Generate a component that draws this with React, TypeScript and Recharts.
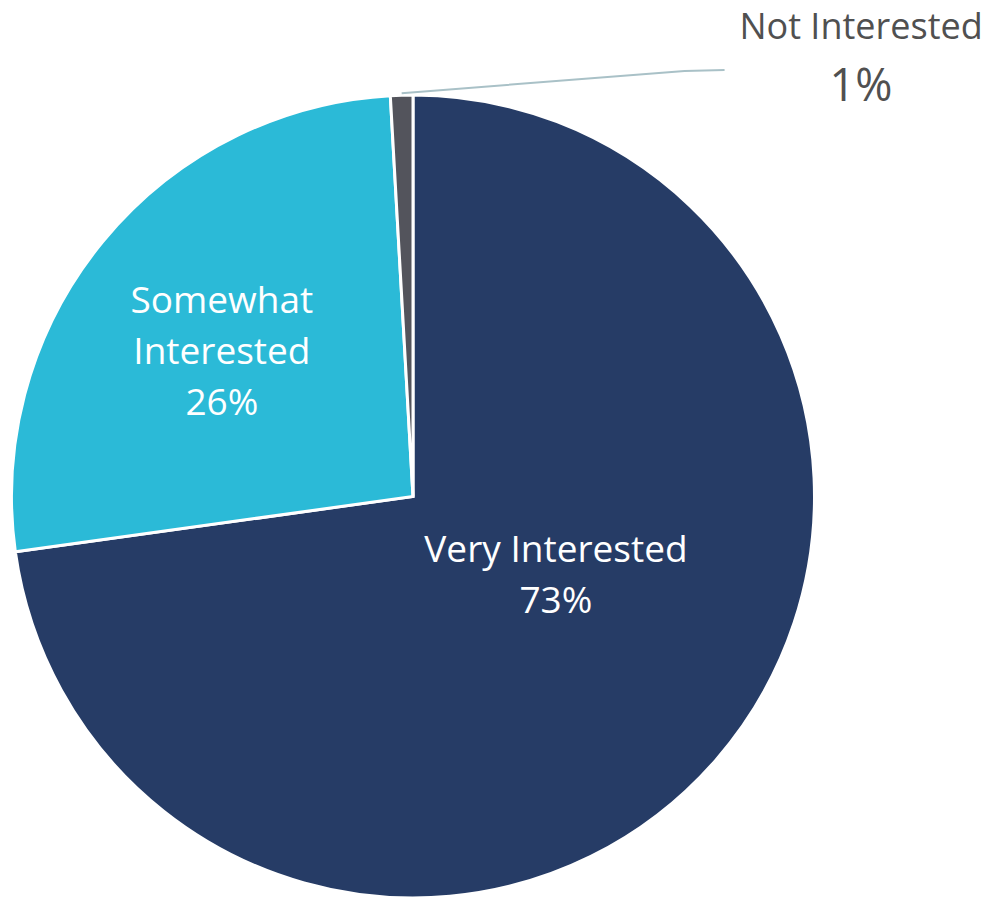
import React from "react";
import { PieChart, Pie, Cell } from "recharts";

const categories = ["Very Interested", "Somewhat Interested", "Not Interested"];
const shares = [72.8, 26.3, 0.9];
const displayLabels = ["73%", "26%", "1%"];
const colors = ["#263C66", "#2BBAD7", "#53545C"];

const data = categories.map((name, i) => ({ name, value: shares[i], pct: displayLabels[i] }));

// label layout, in units of the outer radius relative to the pie centre
const labelLayout: Record<string, { fx: number; fy: number; lines: string[]; outside?: boolean }> = {
  "Very Interested": { fx: 0.356, fy: 0.163, lines: ["Very Interested"] },
  "Somewhat Interested": { fx: -0.476, fy: -0.457, lines: ["Somewhat", "Interested"] },
  "Not Interested": { fx: 1.116, fy: -1.14, lines: ["Not Interested"], outside: true },
};

const FONT = "'Open Sans', sans-serif";

const renderLabel = (props: any) => {
  const { cx, cy, outerRadius, midAngle, name, payload } = props;
  const lay = labelLayout[name];
  if (!lay) return null;
  const x = cx + outerRadius * lay.fx;
  const y = cy + outerRadius * lay.fy;
  const pct = payload?.pct ?? props.pct;
  if (lay.outside) {
    const rad = (Math.PI / 180) * midAngle;
    const sx = cx + outerRadius * Math.cos(rad);
    const sy = cy - outerRadius * Math.sin(rad) - 2;
    const ex = x - outerRadius * 0.34;
    const ey = y + outerRadius * 0.078;
    return (
      <g>
        <polyline
          points={`${sx},${sy} ${ex - 40},${ey + 1} ${ex},${ey}`}
          fill="none"
          stroke="#A9C1C7"
          strokeWidth={2}
        />
        <text x={x} y={y} textAnchor="middle" fill="#505050" fontFamily={FONT} fontSize={36}>
          {lay.lines[0]}
        </text>
        <text x={x} y={y + 62} textAnchor="middle" fill="#505050" fontFamily={FONT} fontSize={45}>
          {pct}
        </text>
      </g>
    );
  }
  const all = [...lay.lines, pct];
  return (
    <g>
      {all.map((t, i) => (
        <text
          key={i}
          x={x}
          y={y + i * 51}
          textAnchor="middle"
          fill="#FFFFFF"
          fontFamily={FONT}
          fontSize={37}
        >
          {t}
        </text>
      ))}
    </g>
  );
};

export default function App() {
  return (
    <div style={{ position: "absolute", left: 0, top: 0, width: 994, height: 898, background: "#fff" }}>
      <PieChart width={994} height={898} margin={{ top: 0, right: 0, bottom: 0, left: 0 }}>
        <Pie
          data={data}
          dataKey="value"
          nameKey="name"
          cx={413}
          cy={496.5}
          outerRadius={401.5}
          startAngle={90}
          endAngle={-270}
          stroke="#FFFFFF"
          strokeWidth={3}
          label={renderLabel}
          labelLine={false}
          isAnimationActive={false}
        >
          {data.map((d, i) => (
            <Cell key={d.name} fill={colors[i]} />
          ))}
        </Pie>
      </PieChart>
    </div>
  );
}
